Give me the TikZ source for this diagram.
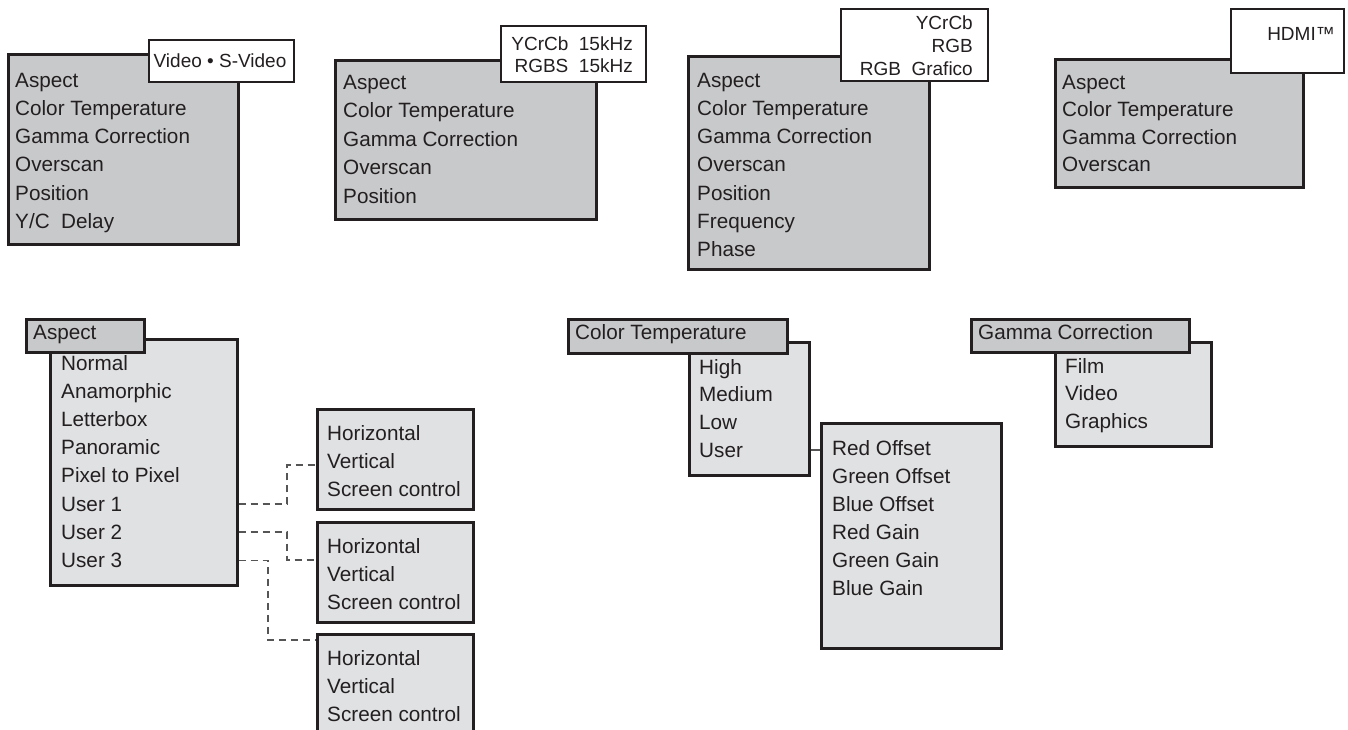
\documentclass[tikz,border=0pt]{standalone}
\usepackage{fontspec}
\setmainfont{Liberation Sans}
\usepackage{xcolor}
\usepackage{tikz}
\usetikzlibrary{calc,positioning}
\definecolor{menuGray}{RGB}{200,201,203}
\definecolor{subGray}{RGB}{224,225,227}
\definecolor{boxLine}{RGB}{35,31,32}
\definecolor{menuText}{RGB}{35,31,32}
\definecolor{linkGray}{RGB}{85,85,85}
\newcommand{\menufont}{\fontsize{20.7}{28}\selectfont}
\newcommand{\srcfont}{\fontsize{19}{23}\selectfont}
\tikzset{
  menubox/.style={draw=boxLine, line width=2.6pt, fill=menuGray, anchor=north west, inner sep=0pt},
  subbox/.style={draw=boxLine, line width=2.6pt, fill=subGray, anchor=north west, inner sep=0pt},
  srcbox/.style={draw=boxLine, line width=1.5pt, fill=white, anchor=north west, inner sep=0pt},
  item/.style={anchor=base west, inner sep=0pt, text=menuText, font=\menufont},
  srcitem/.style={anchor=base east, inner sep=0pt, text=menuText, font=\srcfont},
  link/.style={linkGray, line width=1.3pt, dash pattern=on 7pt off 5pt},
  solidlink/.style={linkGray, line width=1.3pt}
}

\begin{document}
\begin{tikzpicture}[x=1pt,y=-1pt]
\fill[white] (0,0) rectangle (1348,729);
\useasboundingbox (0,0) rectangle (1348,729);

% top row: source menus
\node[menubox, minimum width=230pt, minimum height=190pt] (vid) at (7,53) {};
\node[srcbox, minimum width=145pt, minimum height=42pt] (vidsrc) at (148,39) {};
\node[anchor=base, inner sep=0pt, text=menuText, font=\srcfont] (vidlbl) at (220,67) {Video • S-Video};
\foreach \t [count=\i] in {Aspect,Color Temperature,Gamma Correction,Overscan,Position,Y/C~~Delay}
{
\node[item] (vid-\i) at (15,{87+(\i-1)*28.3}) {\t};
}

\node[menubox, minimum width=261pt, minimum height=159pt] (rgbs) at (334,59) {};
\node[srcbox, minimum width=145pt, minimum height=56pt] (rgbssrc) at (500,25) {};
\node[srcitem] (rgbslbl-1) at (633,50) {YCrCb~~15kHz};
\node[srcitem] (rgbslbl-2) at (633,72) {RGBS~~15kHz};
\foreach \t [count=\i] in {Aspect,Color Temperature,Gamma Correction,Overscan,Position}
{
\node[item] (rgbs-\i) at (343,{89+(\i-1)*28.5}) {\t};
}

\node[menubox, minimum width=241pt, minimum height=213pt] (rgb) at (687,55) {};
\node[srcbox, minimum width=147pt, minimum height=72pt] (rgbsrc) at (840,8) {};
\foreach \t [count=\i] in {YCrCb,RGB,RGB~~Grafico}
{
\node[srcitem] (rgblbl-\i) at (973,{29+(\i-1)*23}) {\t};
}
\foreach \t [count=\i] in {Aspect,Color Temperature,Gamma Correction,Overscan,Position,Frequency,Phase}
{
\node[item] (rgb-\i) at (697,{87+(\i-1)*28.3}) {\t};
}

\node[menubox, minimum width=248pt, minimum height=128pt] (hdmi) at (1054,58) {};
\node[srcbox, minimum width=113pt, minimum height=64pt] (hdmisrc) at (1230,8) {};
\node[srcitem] (hdmilbl) at (1335,40) {HDMI™};
\foreach \t [count=\i] in {Aspect,Color Temperature,Gamma Correction,Overscan}
{
\node[item] (hdmi-\i) at (1062,{89+(\i-1)*27.5}) {\t};
}

% aspect submenu
\node[subbox, minimum width=187pt, minimum height=246pt] (aspsub) at (49,338) {};
\node[menubox, minimum width=118pt, minimum height=33pt] (asphd) at (25,318) {};
\node[item] (asphdlbl) at (33,339) {Aspect};
\foreach \t [count=\i] in {Normal,Anamorphic,Letterbox,Panoramic,Pixel to Pixel,User 1,User 2,User 3}
{
\node[item] (asp-\i) at (61,{370+(\i-1)*28.2}) {\t};
}
\foreach \n/\y in {usrA/408,usrB/521,usrC/633}
{
\node[subbox, minimum width=156pt, minimum height=100pt] (\n) at (316,\y) {};
\foreach \t [count=\i] in {Horizontal,Vertical,Screen control}
{
\node[item] (\n-\i) at (327,{\y+32+(\i-1)*28}) {\t};
}
}
\draw[link] (aspsub.east |- asp-6) -| (287,465) -- (usrA.west |- 0,465);
\draw[link] (aspsub.east |- asp-7) -| (287,560) -- (usrB.west |- 0,560);
\draw[link] (aspsub.east |- asp-8) -| (268,640) -- (usrC.west |- 0,640);

% color temperature submenu
\node[subbox, minimum width=120pt, minimum height=133pt] (ctsub) at (688,341) {};
\node[menubox, minimum width=219pt, minimum height=34pt] (cthd) at (567,318) {};
\node[item] (cthdlbl) at (575,339) {Color Temperature};
\foreach \t [count=\i] in {High,Medium,Low,User}
{
\node[item] (ct-\i) at (699,{374+(\i-1)*27.7}) {\t};
}
\node[subbox, minimum width=180pt, minimum height=225pt] (usrsub) at (820,422) {};
\foreach \t [count=\i] in {Red Offset,Green Offset,Blue Offset,Red Gain,Green Gain,Blue Gain}
{
\node[item] (gain-\i) at (832,{455+(\i-1)*28}) {\t};
}
\draw[solidlink] (ctsub.east |- ct-4) -- (usrsub.west |- ct-4);

% gamma submenu
\node[subbox, minimum width=156pt, minimum height=104pt] (gmsub) at (1054,341) {};
\node[menubox, minimum width=218pt, minimum height=33pt] (gmhd) at (970,318) {};
\node[item] (gmhdlbl) at (978,339) {Gamma Correction};
\foreach \t [count=\i] in {Film,Video,Graphics}
{
\node[item] (gm-\i) at (1065,{373+(\i-1)*27.5}) {\t};
}
\end{tikzpicture}
\end{document}
